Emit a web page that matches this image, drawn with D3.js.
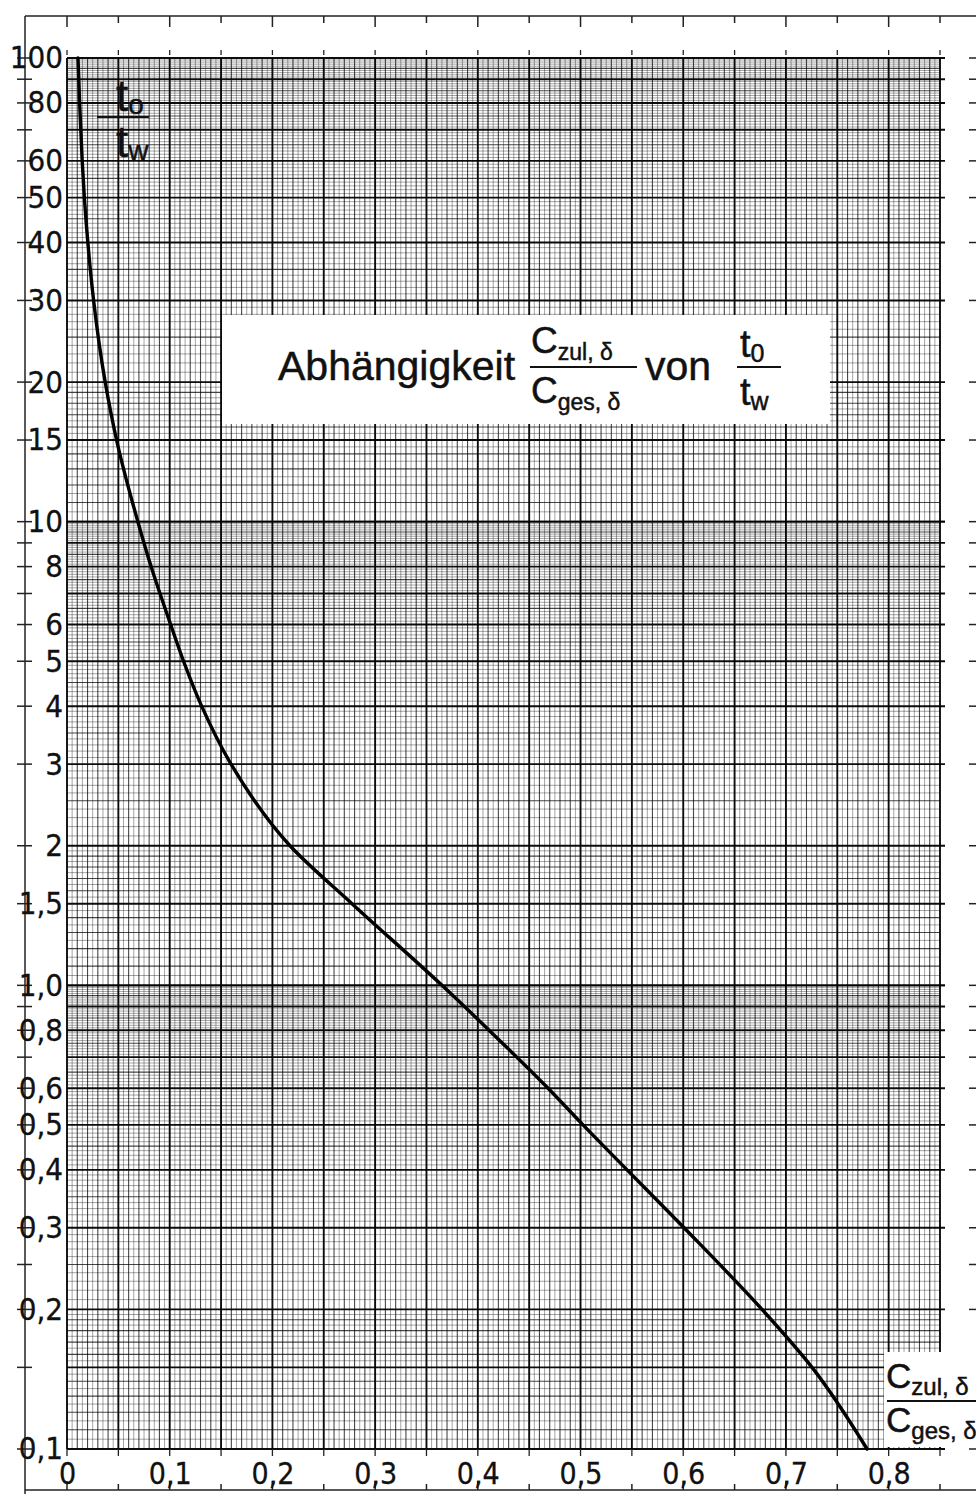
<!DOCTYPE html>
<html>
<head>
<meta charset="utf-8">
<script src="https://cdn.jsdelivr.net/npm/d3@7"></script>
<style>
  html, body { margin: 0; padding: 0; background: #fff; }
  svg { display: block; }
  .lab { font-family: "DejaVu Sans Condensed", "DejaVu Sans", sans-serif; font-stretch: condensed; fill: #111; stroke: #111; stroke-width: 0.3px; }
  .tx { font-family: "Liberation Sans", Arial, sans-serif; fill: #111; stroke: #111; stroke-width: 0.5px; }
</style>
</head>
<body>
<div id="chart"></div>
<script>
// chart size and plot box
const W = 976, H = 1494;
const BOX = Object.freeze({ left: 67, right: 940, top: 58, bottom: 1449 });

// curve: t0/tw against C_zul/C_ges
const tRatio = [100, 80, 60, 50, 40, 30, 20, 15, 10, 8, 6, 5, 4, 3, 2, 1.5, 1.0, 0.8, 0.6, 0.5, 0.4, 0.3, 0.2, 0.15, 0.1];
const cRatio = [0.0107, 0.0123, 0.0148, 0.0169, 0.0203, 0.0259, 0.0372, 0.0483, 0.069, 0.0819, 0.1009, 0.1135, 0.1311, 0.1597, 0.2171, 0.2775, 0.3651, 0.411, 0.4684, 0.5024, 0.5453, 0.6008, 0.6767, 0.7254, 0.779];

// tick labels
const xTicks = [0, 0.1, 0.2, 0.3, 0.4, 0.5, 0.6, 0.7, 0.8];
const xLabels = ["0", "0,1", "0,2", "0,3", "0,4", "0,5", "0,6", "0,7", "0,8"];
const yTicks = [100, 80, 60, 50, 40, 30, 20, 15, 10, 8, 6, 5, 4, 3, 2, 1.5, 1, 0.8, 0.6, 0.5, 0.4, 0.3, 0.2, 0.1];
const yLabels = ["100", "80", "60", "50", "40", "30", "20", "15", "10", "8", "6", "5", "4", "3", "2", "1,5", "1,0", "0,8", "0,6", "0,5", "0,4", "0,3", "0,2", "0,1"];
// extra marks on the left frame line
const yFrameExtra = [90, 70, 9, 7, 0.9, 0.7, 0.25, 0.15];

const x = d3.scaleLinear().domain([0, 0.85]).range([BOX.left, BOX.right]);
const y = d3.scaleLog().domain([0.1, 100]).range([BOX.bottom, BOX.top]);

const svg = d3.select("#chart").append("svg").attr("width", W).attr("height", H);

// ---- log paper grid ----
const round = (v) => Math.round(v * 1e6) / 1e6;
const isMult = (v, s) => Math.abs(v / s - Math.round(v / s)) < 1e-6;

const hLines = [];
[0.1, 1, 10].forEach((dec) => {
  for (let k = 0; k <= 20; k++) {
    const v = round(1 + k * 0.05);
    const w = [1, 1.5, 2].includes(v) ? 2 : isMult(v, 0.1) ? 1 : 0;
    hLines.push({ v: v * dec, w });
  }
  for (let k = 1; k <= 30; k++) {
    const v = round(2 + k * 0.1);
    const w = isMult(v, 1) ? 2 : isMult(v, 0.5) ? 1 : 0;
    hLines.push({ v: v * dec, w });
  }
  for (let k = 1; k <= 50; k++) {
    const v = round(5 + k * 0.1);
    const w = isMult(v, 1) ? 2 : isMult(v, 0.5) ? 1 : 0;
    hLines.push({ v: v * dec, w });
  }
});

const vLines = [];
for (let k = 0; k <= 170; k++) {
  const v = round(k * 0.005);
  const w = isMult(v, 0.05) ? 2 : isMult(v, 0.01) ? 1 : 0;
  vLines.push({ v, w });
}

const STROKE_W = [0.8, 1.1, 1.9];
const STROKE_O = [0.45, 0.72, 0.95];

const grid = svg.append("g");
grid.selectAll(".h")
  .data(hLines.sort((a, b) => a.w - b.w))
  .join("line")
  .attr("x1", BOX.left).attr("x2", (d) => (d.w === 2 ? BOX.right + 5 : BOX.right))
  .attr("y1", (d) => y(d.v)).attr("y2", (d) => y(d.v))
  .attr("stroke", "#000")
  .attr("stroke-width", (d) => STROKE_W[d.w])
  .attr("stroke-opacity", (d) => STROKE_O[d.w]);

grid.selectAll(".v")
  .data(vLines.sort((a, b) => a.w - b.w))
  .join("line")
  .attr("x1", (d) => x(d.v)).attr("x2", (d) => x(d.v))
  .attr("y1", BOX.top).attr("y2", BOX.bottom)
  .attr("stroke", "#000")
  .attr("stroke-width", (d) => STROKE_W[d.w])
  .attr("stroke-opacity", (d) => STROKE_O[d.w]);

// small marks just outside the grid every 0.05
const halfSteps = d3.range(0, 0.851, 0.05);
svg.selectAll(".tt").data(halfSteps).join("line")
  .attr("x1", (d) => x(d)).attr("x2", (d) => x(d))
  .attr("y1", BOX.top - 8).attr("y2", BOX.top - 3)
  .attr("stroke", "#222").attr("stroke-width", 1.3);
svg.selectAll(".bt").data(halfSteps).join("line")
  .attr("x1", (d) => x(d)).attr("x2", (d) => x(d))
  .attr("y1", BOX.bottom).attr("y2", BOX.bottom + 7)
  .attr("stroke", "#222").attr("stroke-width", 1.3);

// ---- outer frame lines with marks ----
const frame = svg.append("g").attr("stroke", "#222").attr("stroke-width", 1.5);
frame.append("line").attr("x1", 25).attr("x2", W).attr("y1", 16).attr("y2", 16);
frame.append("line").attr("x1", 25).attr("x2", W).attr("y1", 1490).attr("y2", 1490);
frame.append("line").attr("x1", 25).attr("x2", 25).attr("y1", 16).attr("y2", H);

frame.selectAll(".ft").data(halfSteps).join("line")
  .attr("x1", (d) => x(d)).attr("x2", (d) => x(d))
  .attr("y1", 16).attr("y2", (d, i) => (i % 2 === 0 ? 27 : 23));
frame.selectAll(".fb").data(halfSteps).join("line")
  .attr("x1", (d) => x(d)).attr("x2", (d) => x(d))
  .attr("y1", 1490).attr("y2", (d, i) => (i % 2 === 0 ? 1481 : 1484));

const frameY = yTicks.concat(yFrameExtra);
frame.selectAll(".fl").data(frameY).join("line")
  .attr("x1", 17).attr("x2", 32)
  .attr("y1", (d) => y(d)).attr("y2", (d) => y(d));
frame.selectAll(".fr").data(frameY).join("line")
  .attr("x1", 969).attr("x2", W)
  .attr("y1", (d) => y(d)).attr("y2", (d) => y(d));

// ---- axes labels ----
const yAxis = svg.append("g")
  .attr("transform", `translate(63,0)`)
  .call(d3.axisLeft(y).tickValues(yTicks).tickFormat((d, i) => yLabels[i]).tickSize(0).tickPadding(0));
yAxis.select(".domain").remove();
yAxis.selectAll("text").attr("class", "lab").style("font-size", "31px").attr("fill", "#111");
yAxis.attr("font-family", null).attr("font-size", null);

const xAxis = svg.append("g")
  .attr("transform", `translate(0,${BOX.bottom})`)
  .call(d3.axisBottom(x).tickValues(xTicks).tickFormat((d, i) => xLabels[i]).tickSize(0).tickPadding(14));
xAxis.select(".domain").remove();
xAxis.selectAll("text").attr("class", "lab").style("font-size", "30px").attr("fill", "#111");
xAxis.attr("font-family", null).attr("font-size", null);

// ---- the curve ----
const pts = tRatio.map((t, i) => ({ c: cRatio[i], t }));
svg.append("path")
  .datum(pts)
  .attr("fill", "none")
  .attr("stroke", "#000")
  .attr("stroke-width", 3.4)
  .attr("stroke-linecap", "round")
  .attr("d", d3.line().x((d) => x(d.c)).y((d) => y(d.t)).curve(d3.curveMonotoneY));

// ---- fraction helper ----
function fraction(g, cx, lineY, num, den, opts) {
  const { size, subSize, lineX1, lineX2 } = opts;
  g.append("line").attr("x1", lineX1).attr("x2", lineX2).attr("y1", lineY).attr("y2", lineY)
    .attr("stroke", "#111").attr("stroke-width", 2.2);
  [[num, lineY - opts.numGap], [den, lineY + opts.denGap]].forEach(([part, by]) => {
    const t = g.append("text").attr("class", "tx").attr("x", cx).attr("y", by).style("font-size", size + "px");
    t.append("tspan").text(part[0]);
    t.append("tspan").attr("dy", opts.subDy).style("font-size", subSize + "px").text(part[1]);
  });
}

// title box
const title = svg.append("g");
title.append("rect").attr("x", 222).attr("y", 315).attr("width", 608).attr("height", 109).attr("fill", "#fff");
title.append("text").attr("class", "tx").attr("x", 278).attr("y", 380).style("font-size", "41px").text("Abhängigkeit");
fraction(title, 531, 367, ["C", "zul, δ"], ["C", "ges, δ"],
  { size: 37, subSize: 23, lineX1: 530, lineX2: 637, numGap: 14, denGap: 36, subDy: 7 });
title.append("text").attr("class", "tx").attr("x", 645).attr("y", 380).style("font-size", "41px").text("von");
fraction(title, 740, 367, ["t", "0"], ["t", "w"],
  { size: 38, subSize: 25, lineX1: 737, lineX2: 781, numGap: 10, denGap: 38, subDy: 5 });

// top-left axis name
const yName = svg.append("g");
fraction(yName, 116, 117, ["t", "o"], ["t", "w"],
  { size: 44, subSize: 28, lineX1: 97, lineX2: 149, numGap: 6, denGap: 40, subDy: 3 });

// bottom-right axis name
const xName = svg.append("g");
xName.append("rect").attr("x", 884).attr("y", 1352).attr("width", 92).attr("height", 95).attr("fill", "#fff");
fraction(xName, 886, 1401, ["C", "zul, δ"], ["C", "ges, δ"],
  { size: 35, subSize: 24, lineX1: 887, lineX2: W, numGap: 13, denGap: 31, subDy: 7 });
</script>
</body>
</html>
